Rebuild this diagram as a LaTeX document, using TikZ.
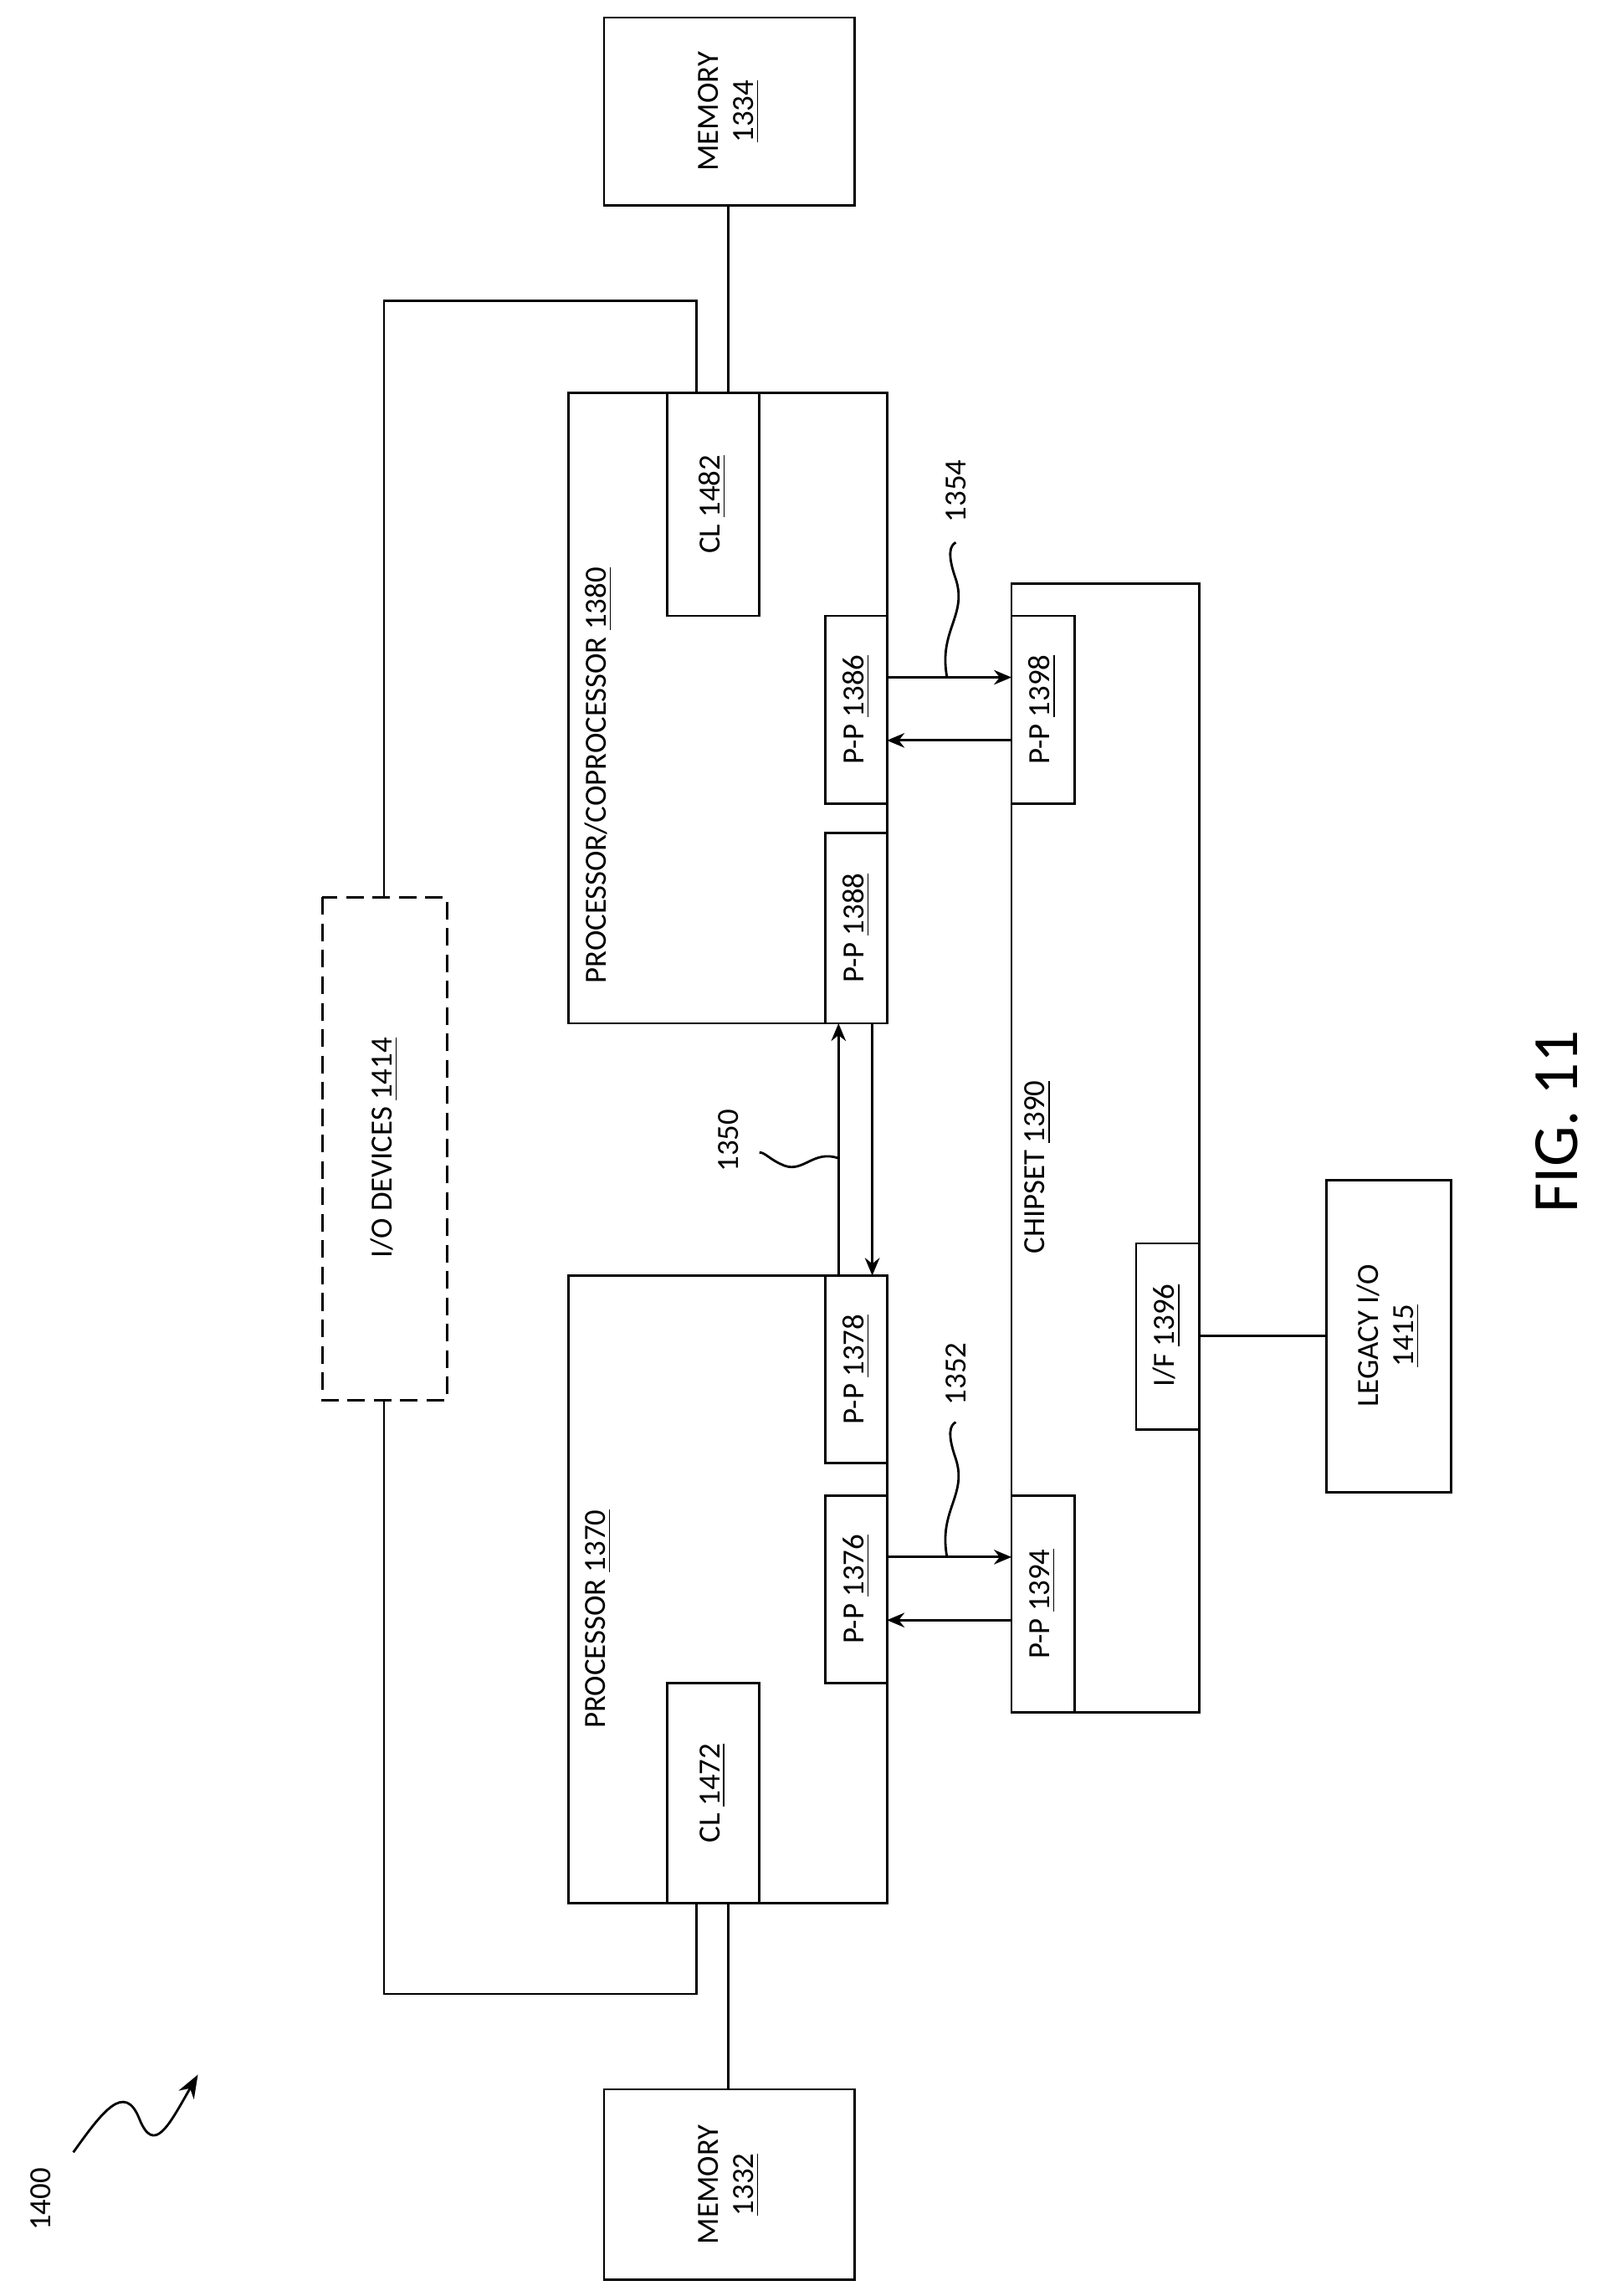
\documentclass[tikz,border=0pt]{standalone}
\usepackage{fontspec}
\setmainfont{Carlito}
\usetikzlibrary{arrows.meta}
\begin{document}
\begin{tikzpicture}[x=0.5pt,y=-0.5pt,
 box/.style={draw,line width=0.8pt},
 lbl/.style={rotate=90,font=\fontsize{10.5}{12}\selectfont,align=center},
 ln/.style={line width=0.8pt},
 ar/.style={line width=0.8pt,-{Stealth[length=6pt,width=5pt]}}]
\useasboundingbox (0,0) rectangle (1100,1566);
% boxes
\draw[box] (412,12) rectangle (583,140);
\node[lbl] (m1334) at (497,76) {MEMORY\\\underline{1334}};
\draw[box] (388,268) rectangle (605,698);
\node[lbl,anchor=west] (p1380) at (408,678) {PROCESSOR/COPROCESSOR \underline{1380}};
\draw[box] (455,268) rectangle (518,420);
\node[lbl] (cl1482) at (486,344) {CL \underline{1482}};
\draw[box] (563,420) rectangle (605,548);
\node[lbl] (pp1386) at (584,484) {P-P \underline{1386}};
\draw[box] (563,568) rectangle (605,698);
\node[lbl] (pp1388) at (584,633) {P-P \underline{1388}};
\draw[box] (690,398) rectangle (818,1168);
\node[lbl,anchor=west] (cs) at (708,862) {CHIPSET \underline{1390}};
\draw[box] (690,420) rectangle (733,548);
\node[lbl] (pp1398) at (711,484) {P-P \underline{1398}};
\draw[box] (690,1020) rectangle (733,1168);
\node[lbl] (pp1394) at (711,1094) {P-P \underline{1394}};
\draw[box] (775,848) rectangle (818,975);
\node[lbl] (if1396) at (796,911) {I/F \underline{1396}};
\draw[box] (905,805) rectangle (990,1018);
\node[lbl] (leg) at (947,911) {LEGACY I/O\\\underline{1415}};
\draw[box] (388,870) rectangle (605,1298);
\node[lbl,anchor=west] (p1370) at (408,1186) {PROCESSOR \underline{1370}};
\draw[box] (455,1148) rectangle (518,1298);
\node[lbl] (cl1472) at (486,1223) {CL \underline{1472}};
\draw[box] (563,1020) rectangle (605,1148);
\node[lbl] (pp1376) at (584,1084) {P-P \underline{1376}};
\draw[box] (563,870) rectangle (605,998);
\node[lbl] (pp1378) at (584,934) {P-P \underline{1378}};
\draw[box] (412,1425) rectangle (583,1555);
\node[lbl] (m1332) at (497,1490) {MEMORY\\\underline{1332}};
\draw[box,dashed,dash pattern=on 6pt off 3pt] (220,612) rectangle (305,955);
\node[lbl] (io) at (262,783) {I/O DEVICES \underline{1414}};
% lines
\draw[ln] (497,140) -- (497,268);
\draw[ln] (475,268) -- (475,205) -- (262,205) -- (262,612);
\draw[ln] (262,955) -- (262,1360) -- (475,1360) -- (475,1298);
\draw[ln] (497,1298) -- (497,1425);
\draw[ln] (818,911) -- (905,911);
% arrows
\draw[ar] (605,462) -- (690,462);
\draw[ar] (690,505) -- (605,505);
\draw[ar] (605,1062) -- (690,1062);
\draw[ar] (690,1105) -- (605,1105);
\draw[ar] (572,870) -- (572,698);
\draw[ar] (595,698) -- (595,870);
% squiggles
\draw[ln] (646,462) .. controls (640,430) and (660,420) .. (652,395) .. controls (646,378) and (648,372) .. (652,370);
\node[lbl] at (652,335) {1354};
\draw[ln] (646,1062) .. controls (640,1030) and (660,1020) .. (652,995) .. controls (646,978) and (648,972) .. (652,970);
\node[lbl] at (652,937) {1352};
\draw[ln] (572,790) .. controls (555,784) and (548,800) .. (535,795) .. controls (525,791) and (522,786) .. (518,786);
\node[lbl] at (497,778) {1350};
\draw[ln,-{Stealth[length=8pt,width=6pt]}] (50,1468) .. controls (70,1440) and (85,1420) .. (95,1445) .. controls (105,1470) and (115,1450) .. (135,1415);
\node[lbl] at (28,1500) {1400};
\node[rotate=90,font=\fontsize{22}{26}\selectfont] at (1062,765) {FIG. 11};
\end{tikzpicture}
\end{document}
